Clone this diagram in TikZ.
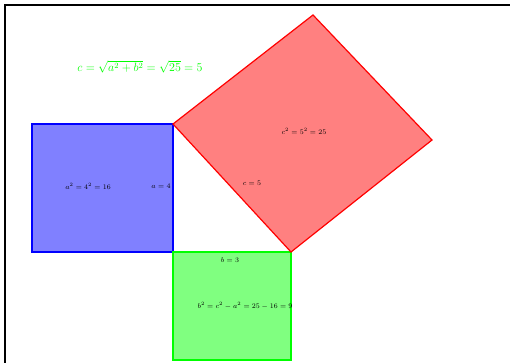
\documentclass[tikz,border=0pt]{standalone}
\usetikzlibrary{calc}
\begin{document}
\begin{tikzpicture}[x=1pt,y=-1pt,
  lbl/.style={inner sep=0pt,font=\fontsize{7.5}{9}\selectfont},
  sq/.style={line width=1.2pt}]
\useasboundingbox (0,0) rectangle (510,363);
\clip (0,0) rectangle (510,363);
\draw[line width=2pt] (5,370) -- (5,5.5) -- (520,5.5);
\coordinate (A) at (173,124);
\coordinate (B) at (173,252);
\coordinate (C) at (291,252);
\coordinate (R) at (432,140);
\coordinate (T) at (313,15);
\draw[sq,blue,fill=blue!50] (32,124) rectangle (B);
\draw[sq,green,fill=green!50] (B) rectangle (291,360);
\draw[sq,red,fill=red!50] (A) -- (C) -- (R) -- (T) -- cycle;
\node[lbl,green,font=\fontsize{11.5}{13}\selectfont] (f) at (140,67) {$c=\sqrt{a^2+b^2}=\sqrt{25}=5$};
\node[lbl] (a2) at (88,186) {$a^2=4^2=16$};
\node[lbl] (a) at (161,186) {$a=4$};
\node[lbl] (c2) at (304,131) {$c^2=5^2=25$};
\node[lbl] (c) at (252,183) {$c=5$};
\node[lbl] (b) at (230,260) {$b=3$};
\node[lbl] (b2) at (245,306) {$b^2=c^2-a^2=25-16=9$};
\end{tikzpicture}
\end{document}
